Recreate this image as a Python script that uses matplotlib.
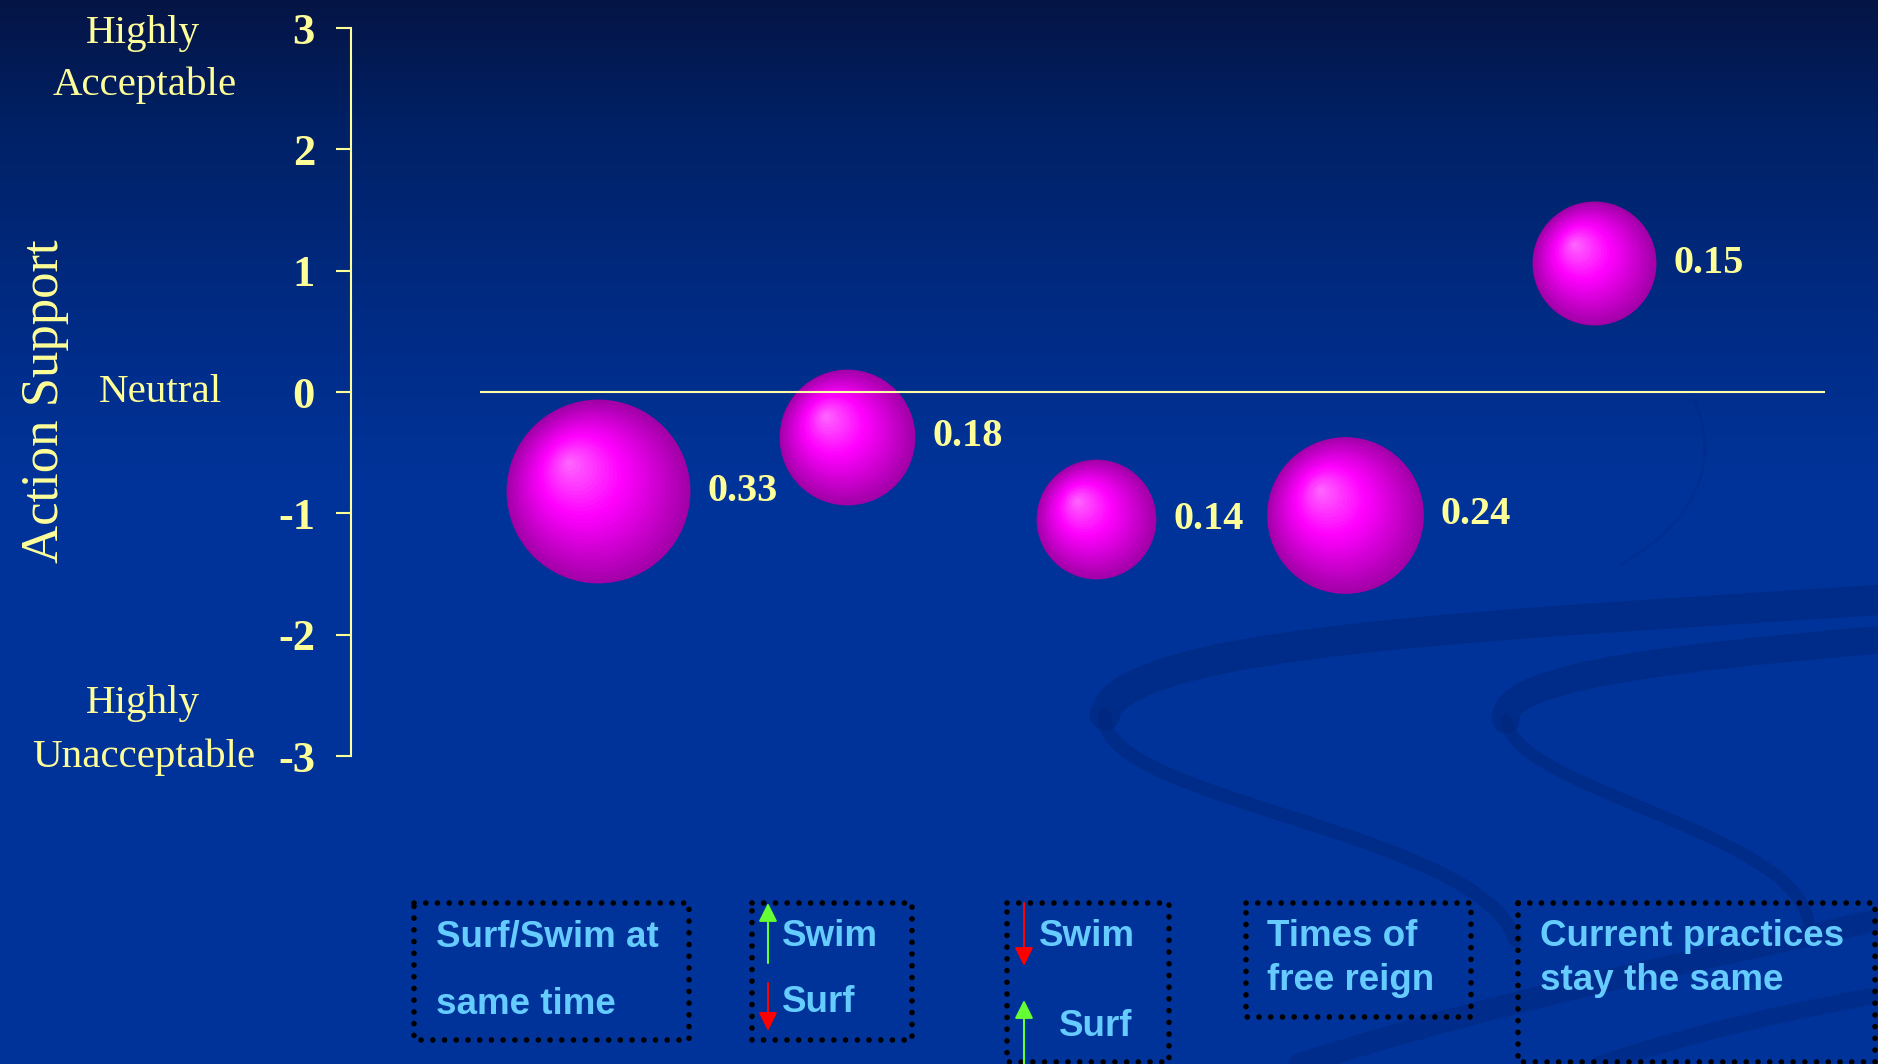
import numpy as np
import matplotlib
matplotlib.use("Agg")
import matplotlib.pyplot as plt
from matplotlib.patches import Rectangle, PathPatch
from matplotlib.path import Path
from matplotlib.transforms import offset_copy

# === Data ===
actions = ["Surf/Swim at same time", "Swim up / Surf down", "Swim down / Surf up",
           "Times of free reign", "Current practices stay the same"]
x_pos = [1, 2, 3, 4, 5]
support = [-0.82, -0.37, -1.05, -1.01, 1.06]
weights = [0.33, 0.18, 0.14, 0.24, 0.15]
weight_labels = ["0.33", "0.18", "0.14", "0.24", "0.15"]
yticks = [-3, -2, -1, 0, 1, 2, 3]
ytick_labels = ["-3", "-2", "-1", "0", "1", "2", "3"]

# === Styling ===
W, H = 1878, 1064
YEL = "#FFFF99"
BOXTXT = "#66CCFF"
SERIF = "Liberation Serif"
SANS = "Liberation Sans"
R_SCALE = 160 * 0.72   # bubble radius in points per sqrt(weight)

fig = plt.figure(figsize=(W / 100, H / 100), dpi=100)

# --- background gradient + swoosh ---
ax_bg = fig.add_axes([0, 0, 1, 1], zorder=-10)
ax_bg.set_xlim(0, W)
ax_bg.set_ylim(H, 0)
ax_bg.axis("off")
yy = np.linspace(0, 1, 300)
stops = [0.0, 0.12, 0.3, 0.45, 1.0]
cols = np.array([[0.02, 0.08, 0.27], [0.0, 0.13, 0.40], [0.0, 0.17, 0.52],
                 [0.0, 0.20, 0.60], [0.0, 0.20, 0.60]])
grad = np.stack([np.interp(yy, stops, cols[:, c]) for c in range(3)], axis=-1)
ax_bg.imshow(grad[:, None, :], extent=(0, W, H, 0), aspect="auto")

swoosh_col = (0.0, 0.15, 0.48)
ribbons = [
    ([(1878, 600), (1500, 625), (1120, 640), (1105, 715)], 22, 0.5),
    ([(1105, 715), (1095, 800), (1480, 830), (1515, 940)], 10, 0.5),
    ([(1878, 640), (1640, 660), (1500, 680), (1506, 720)], 20, 0.5),
    ([(1506, 720), (1515, 790), (1790, 830), (1808, 920)], 9, 0.5),
    ([(1300, 1064), (1500, 1000), (1700, 960), (1878, 920)], 16, 0.45),
    ([(1600, 1064), (1700, 1030), (1800, 1010), (1878, 995)], 12, 0.45),
    ([(1694, 400), (1720, 460), (1700, 520), (1620, 565)], 2, 0.25),
]
for pts, lw, al in ribbons:
    p = Path(pts, [Path.MOVETO, Path.CURVE4, Path.CURVE4, Path.CURVE4])
    ax_bg.add_patch(PathPatch(p, fill=False, ec=swoosh_col, lw=lw, alpha=al,
                              capstyle="round"))

# --- main axes ---
ax = fig.add_axes([351 / W, (H - 756) / H, (W - 351) / W, (756 - 28) / H])
ax.set_facecolor("none")
ax.set_xlim(0.01, 0.01 + (W - 351) / 249)
ax.set_ylim(-3, 3)
for side in ["top", "right", "bottom"]:
    ax.spines[side].set_visible(False)
ax.spines["left"].set_color(YEL)
ax.spines["left"].set_linewidth(1.5)
ax.set_xticks([])
ax.set_yticks(yticks, labels=ytick_labels, fontsize=32, fontweight="bold",
              family=SERIF, color=YEL)
ax.tick_params(axis="y", direction="out", length=11, width=1.5, color=YEL, pad=15)

ax.hlines(0, 0.53, 5.93, color="#FFFFAA", lw=1.5, zorder=10)

# spherical bubbles
def shade(t):
    st = [0.0, 0.45, 1.0]
    c = np.array([[1.0, 0.42, 1.0], [1.0, 0.0, 1.0], [0.64, 0.0, 0.66]])
    return tuple(np.interp(t, st, c[:, i]) for i in range(3))

n_layers = 30
for x, y, w, lab in zip(x_pos, support, weights, weight_labels):
    r = R_SCALE * np.sqrt(w)
    for k in range(n_layers):
        t = 1 - k / n_layers
        tr = offset_copy(ax.transData, fig=fig, x=-0.32 * r * (1 - t),
                         y=0.32 * r * (1 - t), units="points")
        ax.scatter([x], [y], s=(2 * r * t) ** 2, color=[shade(t)], linewidths=0,
                   transform=tr, zorder=3, clip_on=False)
    ax.annotate(lab, (x, y), xytext=(r + 13, 0), textcoords="offset points",
                va="center", ha="left", fontsize=29, fontweight="bold",
                family=SERIF, color=YEL)

# --- overlay: side labels, boxes ---
ov = fig.add_axes([0, 0, 1, 1], zorder=5)
ov.set_xlim(0, W)
ov.set_ylim(H, 0)
ov.axis("off")
ov.set_facecolor("none")

ov.text(45, 401, "Action Support", rotation=90, ha="center", va="center",
        fontsize=38, family=SERIF, color=YEL)
side = [("Highly", 143, 33), ("Acceptable", 145, 85), ("Neutral", 160, 393),
        ("Highly", 143, 704), ("Unacceptable", 144, 757)]
for s, sx, sy in side:
    ov.text(sx, sy, s, ha="center", va="center", fontsize=29.5, family=SERIF, color=YEL)

boxes = [(414, 903, 275, 137), (752, 903, 160, 137), (1007, 903, 162, 159),
         (1246, 903, 225, 114), (1518, 903, 357, 159)]
box_text = [[("Surf/Swim at", 436, 937), ("same time", 436, 1005)],
            [("Swim", 782, 937), ("Surf", 782, 1003)],
            [("Swim", 1039, 937), ("Surf", 1059, 1027)],
            [("Times of", 1267, 937), ("free reign", 1267, 980)],
            [("Current practices", 1540, 937), ("stay the same", 1540, 980)]]
for (bx, by, bw, bh), lines in zip(boxes, box_text):
    ov.add_patch(Rectangle((bx, by), bw, bh, fill=False, ec="black", lw=4,
                           linestyle=(0, (0.01, 2.1)), capstyle="round"))
    for s, tx, ty in lines:
        ov.text(tx, ty, s, ha="left", va="center", fontsize=26.5, fontweight="bold",
                family=SANS, color=BOXTXT)

arrows = [(768, 963, 903, "#66FF33"), (768, 983, 1031, "#FF0000"),
          (1024, 903, 966, "#FF0000"), (1024, 1066, 1000, "#66FF33")]
for axx, y0, y1, c in arrows:
    ov.annotate("", xy=(axx, y1), xytext=(axx, y0),
                arrowprops=dict(arrowstyle="-|>,head_length=0.8,head_width=0.4",
                                color=c, lw=1.5, mutation_scale=14,
                                shrinkA=0, shrinkB=0))

fig.savefig("out.png", dpi=100)
